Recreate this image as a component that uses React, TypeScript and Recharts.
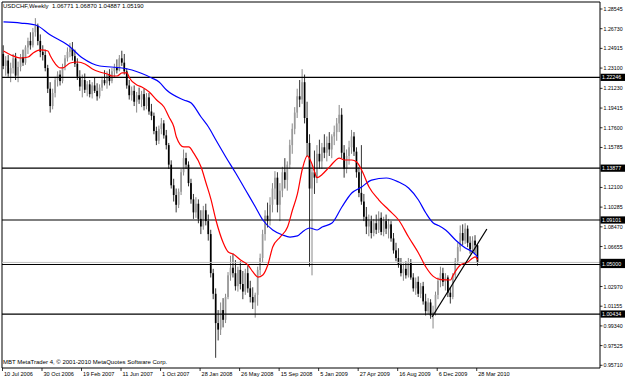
import React from 'react';
import { ComposedChart, Bar, Line, XAxis, YAxis, ReferenceLine } from 'recharts';

const opens = [
  1.2440,1.2330,1.2380,1.2260,1.2310,1.2400,1.2240,1.2320,1.2410,1.2360,
  1.2500,1.2560,1.2520,1.2640,1.2700,1.2560,1.2460,1.2430,1.2310,1.2120,
  1.1960,1.2080,1.2200,1.2250,1.2190,1.2320,1.2400,1.2460,1.2490,1.2420,
  1.2350,1.2230,1.2140,1.2200,1.2110,1.2160,1.2070,1.2150,1.2100,1.2050,
  1.2130,1.2200,1.2170,1.2250,1.2190,1.2280,1.2320,1.2290,1.2400,1.2360,
  1.2280,1.2150,1.2060,1.2100,1.2000,1.2060,1.2020,1.2070,1.1960,1.2040,
  1.1910,1.1870,1.1730,1.1640,1.1750,1.1800,1.1690,1.1600,1.1420,1.1230,
  1.1140,1.1050,1.1170,1.1350,1.1480,1.1420,1.1250,1.1100,1.0980,1.1060,
  1.0920,1.0850,1.1000,1.0900,1.0780,1.0420,1.0230,0.9960,0.9900,1.0080,
  0.9990,1.0200,1.0400,1.0470,1.0420,1.0300,1.0450,1.0320,1.0250,1.0420,
  1.0280,1.0200,1.0150,1.0220,1.0450,1.0560,1.0780,1.0950,1.0900,1.1050,
  1.1200,1.1300,1.1050,1.1180,1.1350,1.1280,1.1420,1.1600,1.1750,1.1900,
  1.2050,1.2020,1.2180,1.1850,1.1620,1.1200,1.1350,1.1300,1.1520,1.1450,
  1.1580,1.1530,1.1620,1.1560,1.1680,1.1720,1.1800,1.1880,1.1530,1.1380,
  1.1500,1.1580,1.1680,1.1540,1.1350,1.1160,1.1080,1.0940,1.0850,1.0900,
  1.0790,1.0880,1.0820,1.0930,1.0800,1.0900,1.0830,1.0870,1.0740,1.0630,
  1.0560,1.0500,1.0420,1.0460,1.0400,1.0520,1.0380,1.0280,1.0340,1.0230,
  1.0300,1.0160,1.0070,1.0150,1.0030,1.0060,1.0220,1.0350,1.0420,1.0340,
  1.0380,1.0240,1.0200,1.0400,1.0530,1.0660,1.0790,1.0720,1.0830,1.0700,
  1.0640,1.0720,1.06771,
];
const highs = [
  1.2520,1.2420,1.2430,1.2360,1.2440,1.2450,1.2370,1.2440,1.2480,1.2520,
  1.2590,1.2640,1.2680,1.2770,1.2720,1.2620,1.2520,1.2480,1.2340,1.2180,
  1.2120,1.2230,1.2280,1.2290,1.2350,1.2430,1.2500,1.2540,1.2550,1.2480,
  1.2400,1.2290,1.2250,1.2260,1.2190,1.2200,1.2180,1.2220,1.2170,1.2160,
  1.2230,1.2290,1.2280,1.2300,1.2310,1.2350,1.2390,1.2430,1.2470,1.2440,
  1.2310,1.2200,1.2140,1.2150,1.2090,1.2130,1.2100,1.2120,1.2080,1.2080,
  1.1980,1.1900,1.1770,1.1780,1.1850,1.1830,1.1740,1.1620,1.1460,1.1290,
  1.1200,1.1200,1.1380,1.1560,1.1530,1.1450,1.1290,1.1150,1.1120,1.1100,
  1.1000,1.1040,1.1060,1.0960,1.0820,1.0460,1.0280,1.0080,1.0150,1.0190,
  1.0230,1.0430,1.0580,1.0600,1.0540,1.0480,1.0530,1.0440,1.0460,1.0490,
  1.0350,1.0290,1.0240,1.0480,1.0600,1.0820,1.1000,1.1070,1.1120,1.1250,
  1.1360,1.1350,1.1250,1.1400,1.1480,1.1450,1.1650,1.1800,1.1950,1.2120,
  1.2200,1.2300,1.2250,1.2000,1.1700,1.1420,1.1550,1.1600,1.1650,1.1620,
  1.1700,1.1680,1.1720,1.1700,1.1780,1.1850,1.1970,1.1940,1.1600,1.1560,
  1.1640,1.1740,1.1720,1.1580,1.1400,1.1600,1.1150,1.1030,1.0960,1.0950,
  1.0920,1.0960,1.0990,1.0980,1.0940,1.0960,1.0920,1.0900,1.0790,1.0700,
  1.0650,1.0560,1.0510,1.0530,1.0560,1.0550,1.0420,1.0380,1.0390,1.0330,
  1.0340,1.0230,1.0190,1.0180,1.0120,1.0250,1.0380,1.0480,1.0470,1.0420,
  1.0400,1.0290,1.0420,1.0560,1.0700,1.0860,1.0870,1.0880,1.0860,1.0760,
  1.0760,1.0770,1.06870,
];
const lows = [
  1.2300,1.2240,1.2230,1.2180,1.2260,1.2200,1.2180,1.2280,1.2330,1.2340,
  1.2440,1.2480,1.2500,1.2600,1.2520,1.2410,1.2380,1.2280,1.2080,1.1900,
  1.1930,1.2040,1.2140,1.2150,1.2170,1.2290,1.2370,1.2410,1.2380,1.2320,
  1.2200,1.2100,1.2040,1.2080,1.2050,1.2040,1.2030,1.2080,1.2010,1.2030,
  1.2100,1.2150,1.2120,1.2150,1.2170,1.2220,1.2260,1.2280,1.2330,1.2250,
  1.2120,1.2020,1.2010,1.1960,1.1900,1.1980,1.1950,1.1920,1.1930,1.1880,
  1.1830,1.1700,1.1600,1.1610,1.1700,1.1660,1.1560,1.1380,1.1200,1.1080,
  1.0980,1.1020,1.1140,1.1320,1.1380,1.1220,1.1060,1.0920,1.0930,1.0880,
  1.0780,1.0820,1.0860,1.0720,1.0380,1.0180,0.9640,0.9800,0.9850,0.9920,
  0.9960,1.0180,1.0350,1.0380,1.0260,1.0250,1.0270,1.0180,1.0220,1.0240,
  1.0150,1.0090,1.0010,1.0120,1.0400,1.0520,1.0720,1.0840,1.0860,1.0980,
  1.1100,1.0980,1.0900,1.1120,1.1200,1.1180,1.1380,1.1520,1.1700,1.1850,
  1.1950,1.1980,1.1800,1.1500,1.0480,1.0400,1.1150,1.1250,1.1380,1.1380,
  1.1480,1.1450,1.1500,1.1480,1.1600,1.1640,1.1720,1.1480,1.1300,1.1340,
  1.1420,1.1520,1.1500,1.1300,1.1120,1.1050,1.0900,1.0780,1.0760,1.0740,
  1.0760,1.0780,1.0790,1.0770,1.0760,1.0780,1.0740,1.0710,1.0600,1.0530,
  1.0470,1.0390,1.0350,1.0370,1.0380,1.0360,1.0250,1.0220,1.0200,1.0190,
  1.0130,1.0030,1.0040,1.0000,0.9910,1.0030,1.0180,1.0290,1.0300,1.0260,
  1.0200,1.0140,1.0180,1.0370,1.0500,1.0620,1.0680,1.0690,1.0660,1.0600,
  1.0610,1.0600,1.04887,
];
const closes = [
  1.2330,1.2380,1.2260,1.2310,1.2400,1.2240,1.2320,1.2410,1.2360,1.2500,
  1.2560,1.2520,1.2640,1.2700,1.2560,1.2460,1.2430,1.2310,1.2120,1.1960,
  1.2080,1.2200,1.2250,1.2190,1.2320,1.2400,1.2460,1.2490,1.2420,1.2350,
  1.2230,1.2140,1.2200,1.2110,1.2160,1.2070,1.2150,1.2100,1.2050,1.2130,
  1.2200,1.2170,1.2250,1.2190,1.2280,1.2320,1.2290,1.2400,1.2360,1.2280,
  1.2150,1.2060,1.2100,1.2000,1.2060,1.2020,1.2070,1.1960,1.2040,1.1910,
  1.1870,1.1730,1.1640,1.1750,1.1800,1.1690,1.1600,1.1420,1.1230,1.1140,
  1.1050,1.1170,1.1350,1.1480,1.1420,1.1250,1.1100,1.0980,1.1060,1.0920,
  1.0850,1.1000,1.0900,1.0780,1.0420,1.0230,0.9960,0.9900,1.0080,0.9990,
  1.0200,1.0400,1.0470,1.0420,1.0300,1.0450,1.0320,1.0250,1.0420,1.0280,
  1.0200,1.0150,1.0220,1.0450,1.0560,1.0780,1.0950,1.0900,1.1050,1.1200,
  1.1300,1.1050,1.1180,1.1350,1.1280,1.1420,1.1600,1.1750,1.1900,1.2050,
  1.2020,1.2180,1.1850,1.1620,1.1200,1.1350,1.1300,1.1520,1.1450,1.1580,
  1.1530,1.1620,1.1560,1.1680,1.1720,1.1800,1.1880,1.1530,1.1380,1.1500,
  1.1580,1.1680,1.1540,1.1350,1.1160,1.1080,1.0940,1.0850,1.0900,1.0790,
  1.0880,1.0820,1.0930,1.0800,1.0900,1.0830,1.0870,1.0740,1.0630,1.0560,
  1.0500,1.0420,1.0460,1.0400,1.0520,1.0380,1.0280,1.0340,1.0230,1.0300,
  1.0160,1.0070,1.0150,1.0030,1.0060,1.0220,1.0350,1.0420,1.0340,1.0380,
  1.0240,1.0200,1.0400,1.0530,1.0660,1.0790,1.0720,1.0830,1.0700,1.0640,
  1.0720,1.0677,1.05190,
];

const redIdx = [0,3,7,10,12,15,18,19,21,23,24,27,30,33,36,39,42,44,46,48,50,51,54,56,59,62,65,67,69,70,73,75,77,80,82,84,86,89,91,93,96,99,101,103,105,107,109,112,115,117,119,121,123,125,127,129,132,136,138,141,143,145,148,152,156,160,164,168,171,174,177,181,182,185,188,190,191,192];
const redVal = [1.2467,1.2431,1.2403,1.2412,1.2449,1.2477,1.2467,1.2421,1.2348,1.2311,1.2311,1.2357,1.2366,1.2348,1.2302,1.2274,1.2255,1.2237,1.2237,1.2265,1.2265,1.2219,1.2154,1.2136,1.2089,1.2016,1.1951,1.1859,1.1767,1.1675,1.1583,1.1583,1.1527,1.1398,1.1251,1.1100,1.0910,1.0698,1.0615,1.0596,1.0541,1.0495,1.0431,1.0384,1.0403,1.0495,1.0661,1.0753,1.0845,1.1002,1.1150,1.1380,1.1500,1.1420,1.1300,1.1330,1.1400,1.1481,1.1463,1.1463,1.1444,1.1371,1.1214,1.1094,1.1002,1.0910,1.0753,1.0606,1.0477,1.0390,1.0360,1.0357,1.0400,1.0495,1.0523,1.0560,1.0570,1.0541];
const blueIdx = [0,7,13,19,26,32,39,48,52,60,63,66,73,76,80,83,86,90,94,98,102,105,109,113,116,119,121,124,127,129,133,137,141,145,149,155,160,164,168,171,174,176,179,183,187,190,192];
const blueVal = [1.2735,1.2725,1.2707,1.2615,1.2523,1.2403,1.2329,1.2311,1.2292,1.2219,1.2182,1.2108,1.2016,1.1988,1.1859,1.1767,1.1647,1.1491,1.1343,1.1186,1.1030,1.0910,1.0818,1.0772,1.0753,1.0763,1.0800,1.0836,1.0818,1.0845,1.0882,1.1030,1.1159,1.1214,1.1278,1.1297,1.1260,1.1205,1.1094,1.0974,1.0882,1.0860,1.0818,1.0726,1.0652,1.0615,1.0569];

const dateTicks = [0,16,32,48,64,80,96,112,128,144,160,176,192];
const dateLabels = ['10 Jul 2006','30 Oct 2006','19 Feb 2007','11 Jun 2007','1 Oct 2007','28 Jan 2008','26 May 2008','15 Sep 2008','5 Jan 2009','27 Apr 2009','16 Aug 2009','6 Dec 2009','28 Mar 2010'];
const priceTicks = [1.28545,1.26730,1.24915,1.23100,1.21230,1.19415,1.17600,1.15785,1.12100,1.10285,1.08470,1.06655,1.02970,1.01155,0.99340,0.97525,0.95710];
const levels = [1.22246, 1.13877, 1.09101, 1.05000, 1.00434];
const bidPrice = 1.05190;
const trendIdx = [173.5, 195.7];
const trendVal = [1.0016, 1.0827];

const X_DOMAIN: [number, number] = [-0.6, 241.5];
const Y_DOMAIN: [number, number] = [0.9546, 1.2919];
const FONT = '"Liberation Sans", Arial, sans-serif';

const candles = closes.map((c, i) => ({
  i,
  open: opens[i],
  high: highs[i],
  low: lows[i],
  close: c,
  range: [lows[i], highs[i]],
}));
const redData = redIdx.map((i, k) => ({ i, v: redVal[k] }));
const blueData = blueIdx.map((i, k) => ({ i, v: blueVal[k] }));

const Candle = (props: any) => {
  const { x, y, width, height, payload } = props;
  if (x == null || y == null) return null;
  const top0 = Math.min(y, y + height);
  const h = Math.abs(height);
  const { open, close, high, low } = payload;
  const cx = x + width / 2;
  const ratio = h / (high - low || 1);
  const bTop = top0 + (high - Math.max(open, close)) * ratio;
  const bBot = top0 + (high - Math.min(open, close)) * ratio;
  const up = close >= open;
  return (
    <g>
      <line x1={cx} x2={cx} y1={top0} y2={top0 + h} stroke={up ? '#6a6a6a' : '#000'} strokeWidth={0.8} />
      <rect x={cx - 0.85} y={bTop} width={1.7} height={Math.max(bBot - bTop, 0.7)} fill={up ? '#9a9a9a' : '#000'} />
    </g>
  );
};

const DateTick = (props: any) => {
  const { x, y, payload } = props;
  const k = dateTicks.indexOf(payload.value);
  return (
    <g>
      <line x1={x - 1} x2={x - 1} y1={y} y2={y + 3} stroke="#000" strokeWidth={0.8} />
      <text x={x + 0.5} y={y + 5.6} fontSize={5.6} fill="#000" fontFamily={FONT} dominantBaseline="central">
        {dateLabels[k]}
      </text>
    </g>
  );
};

const PriceTick = (props: any) => {
  const { x, y, payload } = props;
  return (
    <g>
      <line x1={x} x2={x + 2.5} y1={y} y2={y} stroke="#000" strokeWidth={0.8} />
      <text x={x + 3.5} y={y} fontSize={5.3} fill="#000" fontFamily={FONT} dominantBaseline="central">
        {Number(payload.value).toFixed(5)}
      </text>
    </g>
  );
};

const tag = (text: string) => (props: any) => {
  const vb = props.viewBox || {};
  const x = (vb.x || 0) + (vb.width || 0);
  const y = vb.y || 0;
  return (
    <g>
      <rect x={x + 0.5} y={y - 3.6} width={26} height={7.2} fill="#000" />
      {text ? (
        <text x={x + 2} y={y} fontSize={5.3} fill="#fff" fontFamily={FONT} dominantBaseline="central">
          {text}
        </text>
      ) : null}
    </g>
  );
};

export default function App() {
  return (
    <div style={{ position: 'absolute', left: 0, top: 0, width: 625, height: 378, background: '#fff', fontFamily: FONT }}>
      <ComposedChart width={625} height={378} data={candles} margin={{ top: 2, right: 0, bottom: 0, left: 2 }}>
        <XAxis
          type="number"
          dataKey="i"
          domain={X_DOMAIN}
          allowDataOverflow
          ticks={dateTicks}
          interval={0}
          tick={<DateTick />}
          tickLine={false}
          tickSize={0}
          tickMargin={0}
          height={10}
          axisLine={{ stroke: '#000', strokeWidth: 1 }}
        />
        <YAxis
          orientation="right"
          type="number"
          domain={Y_DOMAIN}
          allowDataOverflow
          ticks={priceTicks}
          interval={0}
          tick={<PriceTick />}
          tickLine={false}
          tickSize={0}
          tickMargin={0}
          width={25}
          axisLine={{ stroke: '#000', strokeWidth: 1 }}
        />
        <ReferenceLine x={X_DOMAIN[0]} stroke="#000" strokeWidth={1} />
        <ReferenceLine y={Y_DOMAIN[1]} stroke="#000" strokeWidth={1} />
        <ReferenceLine y={bidPrice} stroke="#c0c0c0" strokeWidth={1} label={tag('')} />
        {levels.map((lv) => (
          <ReferenceLine key={lv} y={lv} stroke="#000" strokeWidth={1.2} label={tag(lv.toFixed(5))} />
        ))}
        <Bar dataKey="range" barSize={2} shape={<Candle />} isAnimationActive={false} />
        <Line data={blueData} dataKey="v" type="monotone" stroke="#0000ff" strokeWidth={1.2} dot={false} isAnimationActive={false} />
        <Line data={redData} dataKey="v" type="monotone" stroke="#ff0000" strokeWidth={1.2} dot={false} isAnimationActive={false} />
        <ReferenceLine
          segment={[{ x: trendIdx[0], y: trendVal[0] }, { x: trendIdx[1], y: trendVal[1] }]}
          stroke="#000"
          strokeWidth={1.2}
          ifOverflow="visible"
        />
      </ComposedChart>
      <div style={{ position: 'absolute', left: 3, top: 2, fontSize: 6, lineHeight: '8px', color: '#000', whiteSpace: 'pre' }}>
        {'USDCHF,Weekly  1.06771 1.06870 1.04887 1.05190'}
      </div>
      <div style={{ position: 'absolute', left: 3, top: 358, fontSize: 6, lineHeight: '8px', color: '#000', whiteSpace: 'pre' }}>
        {'MBT MetaTrader 4, © 2001-2010 MetaQuotes Software Corp.'}
      </div>
    </div>
  );
}
